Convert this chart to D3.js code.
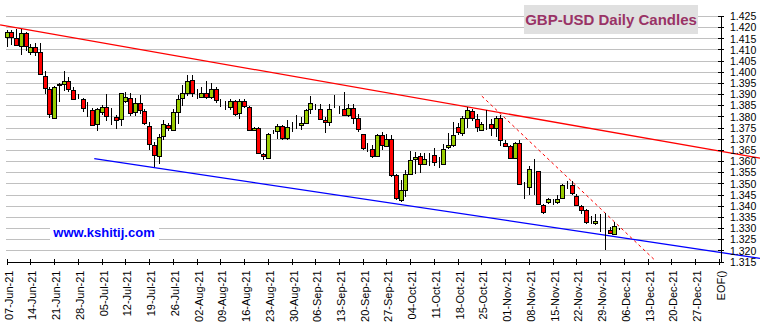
<!DOCTYPE html>
<html>
<head>
<meta charset="utf-8">
<script src="https://cdn.jsdelivr.net/npm/d3@7"></script>
<style>
  html, body { margin: 0; padding: 0; background: #ffffff; }
  svg { display: block; }
</style>
</head>
<body>
<svg id="chart" width="760" height="326"></svg>
<script>
// GBP-USD daily OHLC, trading days from 07-Jun-21 to 03-Dec-21
const opens = [
  1.4154, 1.4177, 1.4150, 1.4112, 1.4172, 1.4087, 1.4109, 1.4087, 1.3983, 1.3922,
  1.3793, 1.3940, 1.3948, 1.3960, 1.3918, 1.3880, 1.3880, 1.3836, 1.3828, 1.3763,
  1.3820, 1.3844, 1.3799, 1.3798, 1.3786, 1.3867, 1.3883, 1.3817, 1.3858, 1.3823,
  1.3759, 1.3672, 1.3626, 1.3710, 1.3760, 1.3741, 1.3820, 1.3885, 1.3906, 1.3963,
  1.3892, 1.3888, 1.3907, 1.3888, 1.3925, 1.3855, 1.3849, 1.3840, 1.3868, 1.3813,
  1.3868, 1.3843, 1.3741, 1.3746, 1.3633, 1.3615, 1.3730, 1.3737, 1.3756, 1.3701,
  1.3753, 1.3757, 1.3759, 1.3773, 1.3832, 1.3845, 1.3835, 1.3786, 1.3777, 1.3844,
  1.3833, 1.3835, 1.3808, 1.3840, 1.3791, 1.3723, 1.3664, 1.3656, 1.3626, 1.3716,
  1.3671, 1.3701, 1.3536, 1.3427, 1.3472, 1.3543, 1.3612, 1.3621, 1.3589, 1.3615,
  1.3629, 1.3592, 1.3589, 1.3660, 1.3671, 1.3753, 1.3726, 1.3793, 1.3825, 1.3790,
  1.3738, 1.3765, 1.3764, 1.3746, 1.3793, 1.3683, 1.3666, 1.3618, 1.3683, 1.3500,
  1.3484, 1.3559, 1.3554, 1.3404, 1.3413, 1.3409, 1.3416, 1.3431, 1.3492, 1.3491,
  1.3442, 1.3397, 1.3379, 1.3327, 1.3319, 1.3320, 1.3309, 1.3292, 1.3270, 1.3295
];
const highs = [
  1.4186, 1.4186, 1.4192, 1.4192, 1.4177, 1.4124, 1.4130, 1.4130, 1.4004, 1.3934,
  1.3936, 1.3948, 1.4002, 1.3975, 1.3933, 1.3900, 1.3882, 1.3865, 1.3836, 1.3836,
  1.3850, 1.3900, 1.3838, 1.3805, 1.3907, 1.3909, 1.3903, 1.3883, 1.3898, 1.3835,
  1.3775, 1.3684, 1.3723, 1.3783, 1.3770, 1.3835, 1.3895, 1.3940, 1.3985, 1.3985,
  1.3925, 1.3932, 1.3960, 1.3948, 1.3932, 1.3876, 1.3870, 1.3876, 1.3873, 1.3876,
  1.3876, 1.3845, 1.3753, 1.3753, 1.3636, 1.3725, 1.3741, 1.3765, 1.3760, 1.3783,
  1.3775, 1.3805, 1.3798, 1.3835, 1.3892, 1.3855, 1.3855, 1.3798, 1.3855, 1.3895,
  1.3846, 1.3910, 1.3855, 1.3855, 1.3813, 1.3723, 1.3680, 1.3670, 1.3723, 1.3731,
  1.3723, 1.3716, 1.3540, 1.3517, 1.3558, 1.3645, 1.3641, 1.3636, 1.3635, 1.3636,
  1.3658, 1.3618, 1.3675, 1.3727, 1.3774, 1.3770, 1.3800, 1.3843, 1.3835, 1.3812,
  1.3776, 1.3830, 1.3790, 1.3802, 1.3805, 1.3696, 1.3671, 1.3686, 1.3693, 1.3505,
  1.3578, 1.3608, 1.3556, 1.3409, 1.3434, 1.3428, 1.3446, 1.3499, 1.3509, 1.3509,
  1.3454, 1.3404, 1.3383, 1.3353, 1.3364, 1.3364, 1.3368, 1.3304, 1.3329, 1.3298
];
const lows = [
  1.4112, 1.4120, 1.4115, 1.4076, 1.4094, 1.4076, 1.4072, 1.3988, 1.3900, 1.3793,
  1.3790, 1.3865, 1.3915, 1.3908, 1.3876, 1.3876, 1.3820, 1.3798, 1.3760, 1.3735,
  1.3807, 1.3780, 1.3760, 1.3745, 1.3756, 1.3858, 1.3802, 1.3802, 1.3810, 1.3762,
  1.3648, 1.3573, 1.3588, 1.3693, 1.3735, 1.3738, 1.3768, 1.3846, 1.3891, 1.3888,
  1.3880, 1.3885, 1.3880, 1.3876, 1.3862, 1.3843, 1.3828, 1.3831, 1.3801, 1.3790,
  1.3840, 1.3738, 1.3737, 1.3630, 1.3606, 1.3613, 1.3723, 1.3699, 1.3696, 1.3696,
  1.3730, 1.3745, 1.3738, 1.3768, 1.3813, 1.3828, 1.3786, 1.3726, 1.3756, 1.3836,
  1.3813, 1.3801, 1.3798, 1.3768, 1.3731, 1.3651, 1.3641, 1.3615, 1.3618, 1.3648,
  1.3663, 1.3529, 1.3425, 1.3416, 1.3439, 1.3540, 1.3540, 1.3546, 1.3582, 1.3579,
  1.3577, 1.3570, 1.3582, 1.3656, 1.3663, 1.3715, 1.3712, 1.3746, 1.3779, 1.3730,
  1.3734, 1.3740, 1.3713, 1.3708, 1.3668, 1.3663, 1.3611, 1.3608, 1.3491, 1.3430,
  1.3446, 1.3449, 1.3401, 1.3364, 1.3409, 1.3401, 1.3409, 1.3428, 1.3476, 1.3449,
  1.3398, 1.3364, 1.3319, 1.3319, 1.3312, 1.3282, 1.3200, 1.3274, 1.3267, 1.3289
];
const closes = [
  1.4177, 1.4154, 1.4118, 1.4172, 1.4112, 1.4109, 1.4087, 1.3988, 1.3931, 1.3811,
  1.3934, 1.3944, 1.3960, 1.3925, 1.3879, 1.3878, 1.3840, 1.3834, 1.3763, 1.3832,
  1.3843, 1.3802, 1.3797, 1.3786, 1.3904, 1.3886, 1.3817, 1.3858, 1.3828, 1.3768,
  1.3678, 1.3629, 1.3710, 1.3764, 1.3748, 1.3820, 1.3880, 1.3906, 1.3958, 1.3903,
  1.3890, 1.3907, 1.3888, 1.3925, 1.3877, 1.3853, 1.3847, 1.3868, 1.3810, 1.3867,
  1.3846, 1.3741, 1.3750, 1.3633, 1.3624, 1.3723, 1.3732, 1.3759, 1.3701, 1.3751,
  1.3754, 1.3756, 1.3770, 1.3831, 1.3858, 1.3846, 1.3791, 1.3777, 1.3835, 1.3845,
  1.3832, 1.3810, 1.3840, 1.3795, 1.3741, 1.3659, 1.3662, 1.3626, 1.3719, 1.3671,
  1.3701, 1.3539, 1.3431, 1.3472, 1.3543, 1.3606, 1.3620, 1.3584, 1.3611, 1.3613,
  1.3596, 1.3590, 1.3656, 1.3670, 1.3716, 1.3730, 1.3791, 1.3828, 1.3793, 1.3753,
  1.3764, 1.3766, 1.3746, 1.3793, 1.3696, 1.3668, 1.3614, 1.3683, 1.3499, 1.3498,
  1.3563, 1.3557, 1.3404, 1.3371, 1.3428, 1.3408, 1.3428, 1.3491, 1.3490, 1.3454,
  1.3401, 1.3379, 1.3326, 1.3325, 1.3330, 1.3318, 1.3308, 1.3277, 1.3307, 1.3293
];

// Weekly (Monday) axis labels; the last slot is the end-of-file marker
const weekLabels = [
  "07-Jun-21", "14-Jun-21", "21-Jun-21", "28-Jun-21", "05-Jul-21", "12-Jul-21",
  "19-Jul-21", "26-Jul-21", "02-Aug-21", "09-Aug-21", "16-Aug-21", "23-Aug-21",
  "30-Aug-21", "06-Sep-21", "13-Sep-21", "20-Sep-21", "27-Sep-21", "04-Oct-21",
  "11-Oct-21", "18-Oct-21", "25-Oct-21", "01-Nov-21", "08-Nov-21", "15-Nov-21",
  "22-Nov-21", "29-Nov-21", "06-Dec-21", "13-Dec-21", "20-Dec-21", "27-Dec-21",
  "EOF()"
];
const priceTicks = [
  1.315, 1.320, 1.325, 1.330, 1.335, 1.340, 1.345, 1.350, 1.355, 1.360, 1.365, 1.370,
  1.375, 1.380, 1.385, 1.390, 1.395, 1.400, 1.405, 1.410, 1.415, 1.420, 1.425
];

// Trend lines as [trading-day index, price] end points
const upperTrend = [[-1.4, 1.4210], [158.7, 1.3613]];
const lowerTrend = [[18.45, 1.3611], [158.7, 1.3164]];
const breakdownTrend = [[100.1, 1.3891], [136.4, 1.3159]];

const titleText = "GBP-USD Daily Candles";
const siteText = "www.kshitij.com";

const svg = d3.select("#chart");
const axisX = 721;
const x = d3.scaleLinear().domain([0, 150]).range([6.7, 718.7]);
const y = d3.scaleLinear().domain([1.315, 1.425]).range([261.5, 16]);
const snap = v => Math.round(v) + 0.5;

svg.append("rect").attr("width", 760).attr("height", 326).attr("fill", "#ffffff");

// horizontal grid
svg.append("g").selectAll("line").data(priceTicks.slice(1)).join("line")
  .attr("x1", 6).attr("x2", axisX)
  .attr("y1", d => snap(y(d))).attr("y2", d => snap(y(d)))
  .attr("stroke", "#c0c0c0").attr("stroke-width", 1)
  .attr("shape-rendering", "crispEdges");

// title box
svg.append("rect").attr("x", 524).attr("y", 5).attr("width", 174).attr("height", 29)
  .attr("fill", "#e0e0e0");
svg.append("text").attr("x", 611).attr("y", 25)
  .attr("text-anchor", "middle")
  .attr("font-family", "Liberation Sans, Arial, sans-serif")
  .attr("font-weight", "bold").attr("font-size", 15)
  .attr("fill", "#993366").text(titleText);

// site label
svg.append("rect").attr("x", 50).attr("y", 225).attr("width", 109).attr("height", 16)
  .attr("fill", "#ffffff");
svg.append("text").attr("x", 104).attr("y", 237)
  .attr("text-anchor", "middle")
  .attr("font-family", "Liberation Sans, Arial, sans-serif")
  .attr("font-weight", "bold").attr("font-size", 13)
  .attr("fill", "#0000ff").text(siteText);

// trend lines
const line = d3.line().x(d => x(d[0])).y(d => y(d[1]));
svg.append("path").datum(upperTrend).attr("d", line)
  .attr("fill", "none").attr("stroke", "#ff0000").attr("stroke-width", 1.3);
svg.append("path").datum(lowerTrend).attr("d", line)
  .attr("fill", "none").attr("stroke", "#0000ff").attr("stroke-width", 1.3);
svg.append("path").datum(breakdownTrend).attr("d", line)
  .attr("fill", "none").attr("stroke", "#ff0000").attr("stroke-width", 1)
  .attr("stroke-dasharray", "3,3");

// candles
const candles = d3.range(opens.length).map(i => ({
  i, o: opens[i], h: highs[i], l: lows[i], c: closes[i]
}));
const cg = svg.append("g").attr("shape-rendering", "crispEdges");
const cs = cg.selectAll("g").data(candles).join("g");
cs.append("line")
  .attr("x1", d => snap(x(d.i))).attr("x2", d => snap(x(d.i)))
  .attr("y1", d => y(d.h)).attr("y2", d => y(d.l))
  .attr("stroke", "#000000").attr("stroke-width", 1);
cs.append("rect")
  .attr("x", d => Math.round(x(d.i)) - 1.5)
  .attr("width", 4)
  .attr("y", d => Math.round(y(Math.max(d.o, d.c))) + 0.5)
  .attr("height", d => Math.max(0, Math.round(Math.abs(y(d.o) - y(d.c)))))
  .attr("fill", d => d.c >= d.o ? "#99cc00" : "#ff0000")
  .attr("stroke", "#000000").attr("stroke-width", 1);

// price axis on the right
const yAxis = svg.append("g").attr("transform", `translate(${axisX},0)`)
  .call(d3.axisRight(y).tickValues(priceTicks).tickSizeInner(3).tickSizeOuter(0)
    .tickFormat(d3.format(".3f")));
yAxis.select(".domain").attr("stroke", "#000").attr("shape-rendering", "crispEdges");
yAxis.selectAll(".tick line").attr("x1", -3).attr("x2", 3)
  .attr("stroke", "#000").attr("shape-rendering", "crispEdges");
yAxis.selectAll(".tick text").attr("x", 9).attr("dy", "0.35em")
  .attr("font-family", "Liberation Sans, Arial, sans-serif").attr("font-size", 10.5)
  .attr("fill", "#000");

// date axis along the bottom
const weekIdx = weekLabels.map((_, k) => k * 5);
const xAxis = svg.append("g").attr("transform", `translate(0,${y(1.315)})`)
  .call(d3.axisBottom(x).tickValues(weekIdx).tickSizeInner(3).tickSizeOuter(0)
    .tickFormat((d, k) => weekLabels[k]));
xAxis.select(".domain").remove();
xAxis.append("line").attr("x1", x(0)).attr("x2", axisX + 1)
  .attr("y1", 0.5).attr("y2", 0.5).attr("stroke", "#000")
  .attr("shape-rendering", "crispEdges");
xAxis.selectAll(".tick line").attr("y1", -3).attr("y2", 3)
  .attr("stroke", "#000").attr("shape-rendering", "crispEdges");
xAxis.selectAll(".tick text")
  .attr("x", 0).attr("y", 0).attr("dy", 0)
  .attr("transform", "translate(5.5,9) rotate(-90)")
  .attr("text-anchor", "end")
  .attr("font-family", "Liberation Sans, Arial, sans-serif").attr("font-size", 11)
  .attr("fill", "#000");
</script>
</body>
</html>
